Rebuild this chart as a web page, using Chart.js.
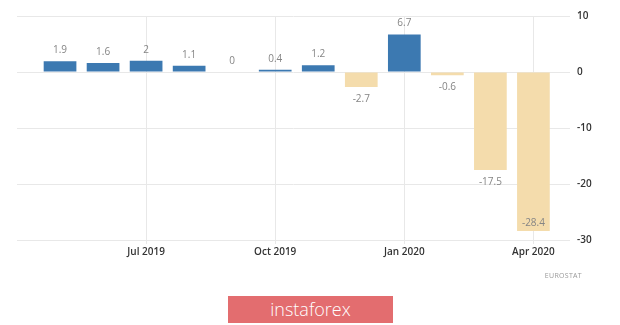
<!DOCTYPE html>
<html>
<head>
<meta charset="utf-8">
<script src="https://cdn.jsdelivr.net/npm/chart.js@4/dist/chart.umd.min.js"></script>
<style>
    body { margin: 0; background: #fff; }
    #wrap { position: relative; width: 620px; height: 325px; }
    #source {
        position: absolute; right: 38px; top: 271px;
        font: 7px "Open Sans", sans-serif; color: #999; letter-spacing: 0.3px;
    }
    #logo {
        position: absolute; left: 228px; top: 296px; width: 165px; height: 27px;
        background: #e36d6f; color: #fff; text-align: center;
        font: 300 18px/27px "Open Sans", sans-serif;
    }
</style>
</head>
<body>
<div id="wrap">
    <canvas id="chart" width="620" height="325"></canvas>
    <div id="source">EUROSTAT</div>
    <div id="logo">instaforex</div>
</div>
<script>
// Monthly change, May 2019 .. Apr 2020
const months = ['May 2019', 'Jun 2019', 'Jul 2019', 'Aug 2019', 'Sep 2019', 'Oct 2019',
                'Nov 2019', 'Dec 2019', 'Jan 2020', 'Feb 2020', 'Mar 2020', 'Apr 2020'];
const values = [1.9, 1.6, 2, 1.1, 0, 0.4, 1.2, -2.7, 6.7, -0.6, -17.5, -28.4];
const tickLabels = ['Jul 2019', 'Oct 2019', 'Jan 2020', 'Apr 2020'];
const yTicks = [10, 0, -10, -20, -30];

const BLUE = '#3c79b1';
const BEIGE = '#f4dcac';

// value labels above / below bars
const valueLabels = {
    id: 'valueLabels',
    afterDatasetsDraw(chart) {
        const ctx = chart.ctx;
        const meta = chart.getDatasetMeta(0);
        const area = chart.chartArea;
        ctx.save();
        ctx.font = '10px "Open Sans", sans-serif';
        ctx.fillStyle = '#858585';
        ctx.textAlign = 'center';
        ctx.textBaseline = 'middle';
        meta.data.forEach((bar, i) => {
            const v = values[i];
            let y;
            if (v >= 0) {
                y = bar.y - 11;
            } else {
                y = bar.y + 12;
                if (y > area.bottom - 6) y = bar.y - 8;
            }
            ctx.fillText(String(v), bar.x, y);
        });
        ctx.restore();
    }
};

new Chart(document.getElementById('chart'), {
    type: 'bar',
    data: {
        datasets: [{
            data: values.map((v, i) => ({ x: i, y: v })),
            backgroundColor: values.map(v => v >= 0 ? BLUE : BEIGE),
            barPercentage: 0.76,
            categoryPercentage: 1,
            borderWidth: 0
        }]
    },
    options: {
        responsive: false,
        animation: false,
        layout: { padding: { left: 17, top: 16, right: 0, bottom: 0 } },
        plugins: { legend: { display: false }, tooltip: { enabled: false } },
        scales: {
            x: {
                type: 'linear',
                offset: false,
                min: -1,
                max: 11.85,
                afterBuildTicks: axis => {
                    axis.ticks = tickLabels.map(l => ({ value: months.indexOf(l) }));
                },
                afterFit: axis => { axis.height = 85; },
                grid: { offset: false, color: '#e8e8e8', tickLength: 4, tickColor: '#e8e8e8' },
                border: { display: false },
                ticks: {
                    padding: 2,
                    color: '#333',
                    font: { family: 'Open Sans', size: 10, weight: '600' },
                    maxRotation: 0,
                    callback: v => months[v]
                }
            },
            y: {
                position: 'right',
                min: -30,
                max: 10,
                afterBuildTicks: axis => {
                    axis.ticks = yTicks.map(v => ({ value: v }));
                },
                afterFit: axis => { axis.width = 50; },
                grid: { color: '#e8e8e8', drawTicks: false },
                border: { display: false },
                ticks: {
                    padding: 7,
                    color: '#333',
                    font: { family: 'Open Sans', size: 10, weight: '600' }
                }
            }
        }
    },
    plugins: [valueLabels]
});
</script>
</body>
</html>
